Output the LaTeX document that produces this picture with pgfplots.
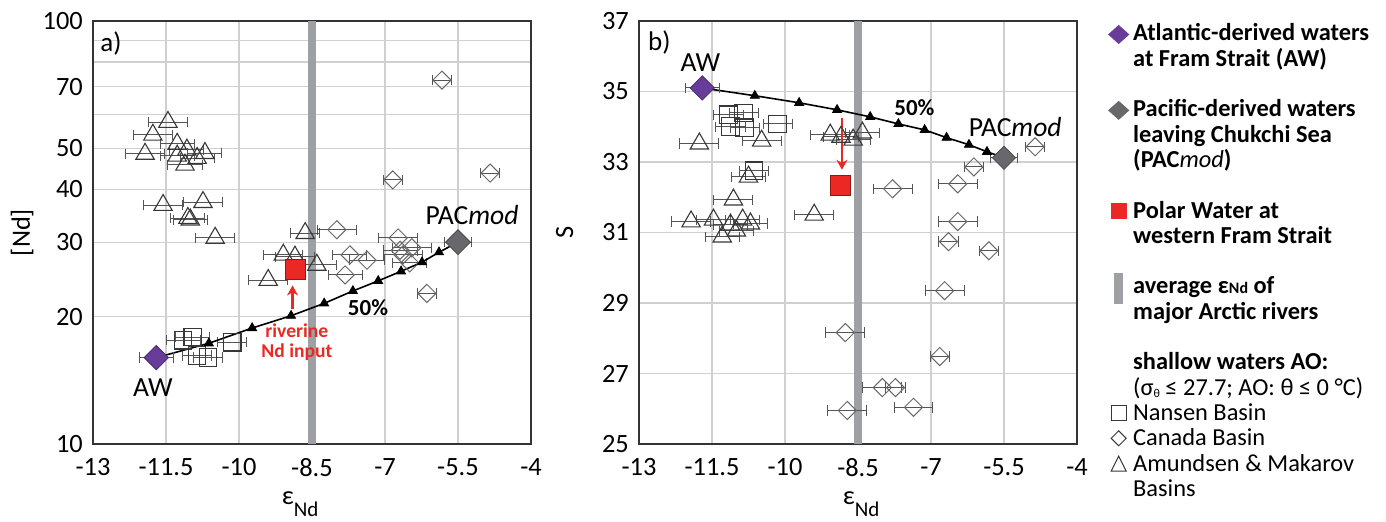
\documentclass[border=0pt]{standalone}
\usepackage{pgfplots}
\pgfplotsset{compat=1.18}
\usepackage{pgfplotstable}
\usepackage{fontspec}
\setmainfont{Carlito}
\usetikzlibrary{arrows.meta}

\definecolor{awpurple}{RGB}{104,61,153}
\definecolor{pacgrey}{RGB}{104,104,108}
\definecolor{pwred}{RGB}{236,40,36}
\definecolor{bandgrey}{RGB}{158,160,163}
\definecolor{gridgrey}{RGB}{208,208,208}
\definecolor{ebgrey}{RGB}{85,85,85}
\definecolor{mkgrey}{RGB}{55,55,55}
\definecolor{dmgrey}{RGB}{105,105,105}

\newcommand{\ticksize}{\fontsize{13.2}{15}\selectfont}
\newcommand{\legsize}{\fontsize{12.2}{12.5}\selectfont}

% ---------------- panel a data ([Nd] vs eps Nd) ----------------
\pgfplotstableread{
x y ex
-11.15 17.6 0.35
-10.95 17.9 0.35
-10.86 16.2 0.30
-10.64 16.0 0.30
-10.14 17.4 0.30
}\nansenA
\pgfplotstableread{
x y ex
-5.83 72.5 0.20
-6.84 42.1 0.20
-4.84 43.7 0.20
-7.99 32.1 0.40
-6.73 30.7 0.40
-7.72 28.0 0.35
-7.37 27.2 0.35
-7.82 25.1 0.35
-6.63 28.0 0.40
-6.45 29.1 0.40
-6.49 26.8 0.35
-6.69 28.7 0.35
-6.14 22.7 0.20
}\canadaA
\pgfplotstableread{
x y ex
-11.46 57.7 0.40
-11.77 53.8 0.40
-11.93 48.5 0.40
-11.27 51.2 0.35
-11.27 48.0 0.35
-11.11 45.7 0.35
-10.86 47.4 0.35
-10.70 48.7 0.35
-11.07 49.6 0.35
-11.56 36.7 0.40
-10.74 37.3 0.40
-11.05 34.2 0.35
-11.00 33.9 0.35
-10.49 30.7 0.40
-8.64 31.5 0.30
-9.09 28.0 0.40
-8.85 27.7 0.40
-8.40 26.5 0.40
-9.40 24.4 0.40
}\amundA
\pgfplotstableread{
x y
-11.70 16.0
-10.62 17.3
-9.73 18.8
-8.93 20.1
-8.25 21.5
-7.66 23.0
-7.14 24.3
-6.67 25.6
-6.24 26.9
-5.89 28.4
-5.50 30.0
}\mixA
\pgfplotstableread{
x y
-10.62 17.3
-9.73 18.8
-8.93 20.1
-8.25 21.5
-7.66 23.0
-7.14 24.3
-6.67 25.6
-6.24 26.9
-5.89 28.4
}\mixAm

% ---------------- panel b data (S vs eps Nd) ----------------
\pgfplotstableread{
x y ex
-11.16 34.34 0.30
-10.85 34.39 0.30
-11.12 34.00 0.30
-10.83 33.97 0.30
-10.15 34.08 0.30
-10.64 32.75 0.30
}\nansenB
\pgfplotstableread{
x y ex
-7.79 32.24 0.40
-6.45 32.38 0.40
-6.12 32.86 0.20
-6.45 31.31 0.40
-6.64 30.74 0.20
-5.81 30.48 0.20
-6.72 29.35 0.40
-4.86 33.43 0.20
-8.76 28.16 0.40
-6.82 27.48 0.20
-8.00 26.60 0.40
-7.73 26.60 0.20
-7.36 26.04 0.40
-8.72 25.95 0.40
}\canadaB
\pgfplotstableread{
x y ex
-11.76 33.52 0.40
-10.48 33.60 0.40
-10.75 32.58 0.35
-11.06 31.93 0.40
-11.93 31.31 0.40
-11.47 31.36 0.35
-11.12 31.22 0.35
-10.87 31.36 0.35
-10.71 31.25 0.35
-11.29 30.88 0.35
-11.00 31.05 0.35
-9.40 31.50 0.40
-9.07 33.77 0.40
-8.85 33.71 0.35
-8.60 33.63 0.35
-8.41 33.83 0.35
}\amundB
\pgfplotstableread{
x y
-11.70 35.10
-10.62 34.88
-9.71 34.68
-8.93 34.48
-8.25 34.28
-7.67 34.08
-7.13 33.91
-6.68 33.69
-6.22 33.49
-5.85 33.29
-5.50 33.12
}\mixB
\pgfplotstableread{
x y
-10.62 34.88
-9.71 34.68
-8.93 34.48
-8.25 34.28
-7.67 34.08
-7.13 33.91
-6.68 33.69
-6.22 33.49
-5.85 33.29
}\mixBm

\pgfplotsset{
  panel/.style={
    scale only axis, width=219pt, height=211.5pt,
    xmin=-13, xmax=-4,
    xtick={-13,-11.5,-10,-8.5,-7,-5.5,-4},
    xticklabels={-13,-11.5,-10,-8.5,-7,-5.5,-4},
    grid=major, major grid style={gridgrey, line width=0.6pt},
    axis line style={black!80, line width=0.7pt},
    major tick length=0pt, minor tick length=0pt,
    tick label style={font=\ticksize, inner sep=1pt},
    xticklabel style={yshift=-6pt},
    yticklabel style={xshift=-3.9pt},
    label style={font=\ticksize},
  },
  ebars/.style={
    error bars/x dir=both, error bars/x explicit,
    error bars/error bar style={line width=0.5pt, ebgrey},
    error bars/error mark options={line width=0.5pt, ebgrey, mark size=2.6pt, rotate=90}},
  tri/.style={only marks, mark=triangle, mark size=5.3pt,
    mark options={fill=white, draw=mkgrey, line width=0.55pt}, ebars},
  sq/.style={only marks, mark=square, mark size=4.4pt,
    mark options={fill=white, draw=mkgrey, line width=0.55pt}, ebars},
  dia/.style={only marks, mark=square, mark size=3.2pt,
    mark options={rotate=45, fill=white, draw=dmgrey, line width=0.5pt}, ebars},
  noimg/.style={legend image code/.code={}},
}

\begin{document}
\begin{tikzpicture}
\useasboundingbox (-46.5pt,-39pt) rectangle (646.5pt,222pt);

% ======================= panel a =======================
\begin{axis}[panel,
  at={(0pt,0pt)}, anchor=south west,
  ymode=log, ymin=10, ymax=100,
  ytick={10,20,30,40,50,60,70,80,90,100},
  yticklabels={10,20,30,40,50,,70,,,100},
  xlabel={ε\raisebox{-6pt}{\fontsize{10.5}{12}\selectfont Nd}},
  xlabel style={at={(axis description cs:0.473,-0.144)}, anchor=base},
  ylabel={[Nd]},
  ylabel style={at={(axis description cs:-0.162,0.5)}, anchor=center},
]
\addplot[bandgrey, line width=4pt, forget plot] coordinates {(-8.5,10) (-8.5,100)};
\addplot[dia] table[x=x, y=y, x error=ex] {\canadaA};
\addplot[sq] table[x=x, y=y, x error=ex] {\nansenA};
\addplot[tri] table[x=x, y=y, x error=ex] {\amundA};
\addplot[black, line width=0.8pt] table[x=x, y=y] {\mixA};
\addplot[only marks, mark=triangle*, mark size=2.6pt, mark options={fill=black, draw=black}] table[x=x, y=y] {\mixAm};
\addplot[only marks, mark=square*, mark size=4.3pt, mark options={rotate=45, fill=awpurple, draw=awpurple!70!black, line width=0.4pt}, ebars]
  coordinates {(-11.70,16.0) +- (0.35,0)};
\addplot[only marks, mark=square*, mark size=4.4pt, mark options={rotate=45, fill=pacgrey, draw=pacgrey!70!black, line width=0.4pt}, ebars]
  coordinates {(-5.50,30.0) +- (0.27,0)};
\addplot[only marks, mark=square*, mark size=5pt, mark options={fill=pwred, draw=pwred!60!black, line width=0.4pt}]
  coordinates {(-8.85,25.8)};
\draw[pwred, line width=1.4pt, -{Stealth[length=5pt, width=5.5pt]}] (axis cs:-8.9,20.9) -- (axis cs:-8.9,23.7);
\node[anchor=west, inner sep=0pt, font=\fontsize{13.5}{15}\selectfont] at (rel axis cs:0.016,0.946) {a)};
\node[font=\fontsize{13.8}{15}\selectfont] at (axis cs:-11.77,13.6) {AW};
\node[font=\fontsize{13.8}{15}\selectfont] at (axis cs:-5.21,34.8) {PAC\textit{mod}};
\node[font=\bfseries\fontsize{11.5}{13}\selectfont] at (axis cs:-7.35,21.0) {50\%};
\node[font=\bfseries\fontsize{9.8}{9.6}\selectfont, text=pwred, align=center] at (axis cs:-8.81,17.4) {riverine\\Nd input};
\end{axis}

% ======================= panel b =======================
\begin{axis}[panel,
  at={(273pt,0pt)}, anchor=south west,
  ymin=25, ymax=37,
  ytick={25,27,29,31,33,35,37},
  yticklabels={25,27,29,31,33,35,37},
  xlabel={ε\raisebox{-6pt}{\fontsize{10.5}{12}\selectfont Nd}},
  xlabel style={at={(axis description cs:0.507,-0.144)}, anchor=base},
  ylabel={S},
  ylabel style={at={(axis description cs:-0.170,0.5)}, anchor=center},
  legend style={at={(1.0952,1.0036)}, anchor=north west, draw=none, fill=none,
    inner sep=0pt, outer sep=0pt, row sep=-1.6pt, column sep=5.25pt, font=\legsize,
    cells={anchor=base west, inner sep=0pt, outer sep=0pt, text height=8.75pt, text depth=3.75pt}},
]
\addplot[bandgrey, line width=4pt, forget plot] coordinates {(-8.5,25) (-8.5,37)};
\addplot[dia, forget plot] table[x=x, y=y, x error=ex] {\canadaB};
\addplot[sq, forget plot] table[x=x, y=y, x error=ex] {\nansenB};
\addplot[tri, forget plot] table[x=x, y=y, x error=ex] {\amundB};
\addplot[black, line width=0.8pt, forget plot] table[x=x, y=y] {\mixB};
\addplot[only marks, mark=triangle*, mark size=2.6pt, mark options={fill=black, draw=black}, forget plot] table[x=x, y=y] {\mixBm};
\addplot[only marks, mark=square*, mark size=4.3pt, mark options={rotate=45, fill=awpurple, draw=awpurple!70!black, line width=0.4pt}, forget plot, ebars]
  coordinates {(-11.70,35.10) +- (0.35,0)};
\addplot[only marks, mark=square*, mark size=4.1pt, mark options={rotate=45, fill=pacgrey, draw=pacgrey!70!black, line width=0.4pt}, forget plot, ebars]
  coordinates {(-5.50,33.12) +- (0.27,0)};
\addplot[only marks, mark=square*, mark size=5pt, mark options={fill=pwred, draw=pwred!60!black, line width=0.4pt}, forget plot]
  coordinates {(-8.87,32.33)};
\draw[pwred, line width=1.4pt, -{Stealth[length=5pt, width=5.5pt]}] (axis cs:-8.83,34.25) -- (axis cs:-8.83,32.78);
\node[anchor=west, inner sep=0pt, font=\fontsize{13.5}{15}\selectfont] at (rel axis cs:0.02,0.948) {b)};
\node[font=\fontsize{13.8}{15}\selectfont] at (axis cs:-11.74,35.81) {AW};
\node[font=\fontsize{13.8}{15}\selectfont] at (axis cs:-5.27,34.0) {PAC\textit{mod}};
\node[font=\bfseries\fontsize{11.5}{13}\selectfont] at (axis cs:-7.34,34.53) {50\%};

% ---- legend (one row per text line) ----
\addlegendimage{legend image code/.code={\fill[awpurple, overlay] (-5pt,3.25pt) -- (0pt,7.75pt) -- (5pt,3.25pt) -- (0pt,-1.25pt) -- cycle;}}
\addlegendentry{\bfseries Atlantic-derived waters}
\addlegendimage{noimg}\addlegendentry{\bfseries at Fram Strait (AW)}
\addlegendimage{noimg}\addlegendentry{\mbox{}}
\addlegendimage{legend image code/.code={\fill[pacgrey, overlay] (-5pt,3.25pt) -- (0pt,7.75pt) -- (5pt,3.25pt) -- (0pt,-1.25pt) -- cycle;}}
\addlegendentry{\bfseries Pacific-derived waters}
\addlegendimage{noimg}\addlegendentry{\bfseries leaving Chukchi Sea}
\addlegendimage{noimg}\addlegendentry{\bfseries (PAC{\mdseries\itshape mod})}
\addlegendimage{noimg}\addlegendentry{\mbox{}}
\addlegendimage{legend image code/.code={\fill[pwred, overlay] (-3.75pt,0pt) rectangle (3.75pt,7.5pt);}}
\addlegendentry{\bfseries Polar Water at}
\addlegendimage{noimg}\addlegendentry{\bfseries western Fram Strait}
\addlegendimage{noimg}\addlegendentry{\mbox{}}
\addlegendimage{legend image code/.code={\fill[bandgrey, overlay] (-2pt,-4.75pt) rectangle (2pt,10.25pt);}}
\addlegendentry{\bfseries average ε{\fontsize{8}{9}\selectfont Nd} of}
\addlegendimage{noimg}\addlegendentry{\bfseries major Arctic rivers}
\addlegendimage{noimg}\addlegendentry{\mbox{}}
\addlegendimage{noimg}\addlegendentry{\bfseries shallow waters AO:}
\addlegendimage{noimg}\addlegendentry{(σ\raisebox{-1pt}{\fontsize{6}{6}\selectfont θ} ≤ 27.7; AO: θ ≤ 0 °C)}
\addlegendimage{legend image code/.code={\draw[mkgrey, line width=0.5pt, overlay] (-3.75pt,0pt) rectangle (3.75pt,7.5pt);}}
\addlegendentry{Nansen Basin}
\addlegendimage{legend image code/.code={\draw[mkgrey, line width=0.5pt, overlay] (-3.75pt,3.75pt) -- (0pt,7.5pt) -- (3.75pt,3.75pt) -- (0pt,0pt) -- cycle;}}
\addlegendentry{Canada Basin}
\addlegendimage{legend image code/.code={\draw[mkgrey, line width=0.5pt, overlay] (-3.75pt,0pt) -- (0pt,7.5pt) -- (3.75pt,0pt) -- cycle;}}
\addlegendentry{Amundsen \& Makarov}
\addlegendimage{noimg}\addlegendentry{Basins}
\end{axis}
\end{tikzpicture}
\end{document}
